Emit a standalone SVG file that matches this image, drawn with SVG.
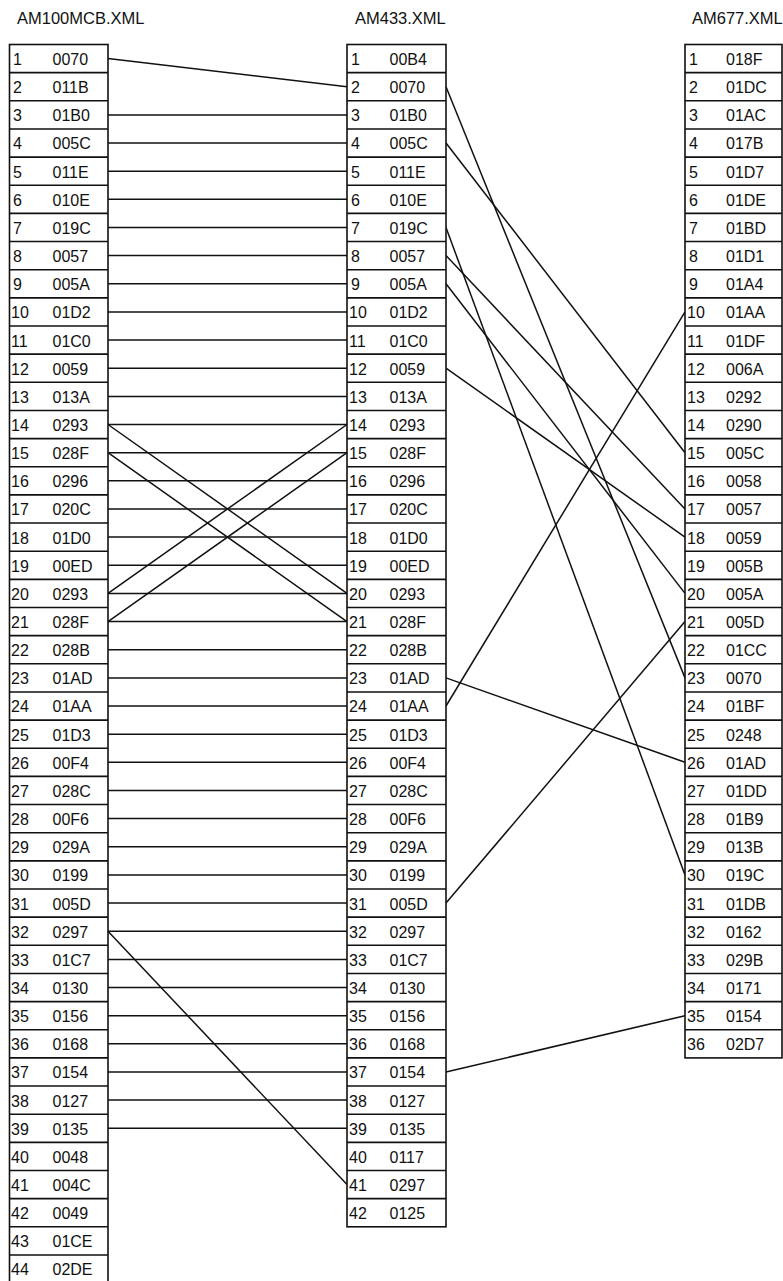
<svg xmlns="http://www.w3.org/2000/svg" width="783" height="1281" viewBox="0 0 783 1281">
<style>
text{font-family:"Liberation Sans",Arial,sans-serif;fill:#111}
.h{font-size:16.5px}
.t{font-size:16px}
.box{fill:#fff;stroke:#111;stroke-width:1.6}
.sep{fill:none;stroke:#111;stroke-width:1.6}
.c line{stroke:#111;stroke-width:1.5}
</style>
<rect width="783" height="1281" fill="#fff"/>
<text class="h" x="17" y="23.5">AM100MCB.XML</text>
<text class="h" x="355" y="23.5">AM433.XML</text>
<text class="h" x="692" y="23.5">AM677.XML</text>

<g id="connectors" class="c">
<line x1="108" y1="58.6" x2="347" y2="86.7"/>
<line x1="108" y1="114.9" x2="347" y2="114.9"/>
<line x1="108" y1="143.0" x2="347" y2="143.0"/>
<line x1="108" y1="171.2" x2="347" y2="171.2"/>
<line x1="108" y1="199.3" x2="347" y2="199.3"/>
<line x1="108" y1="227.5" x2="347" y2="227.5"/>
<line x1="108" y1="255.6" x2="347" y2="255.6"/>
<line x1="108" y1="283.8" x2="347" y2="283.8"/>
<line x1="108" y1="311.9" x2="347" y2="311.9"/>
<line x1="108" y1="340.1" x2="347" y2="340.1"/>
<line x1="108" y1="368.2" x2="347" y2="368.2"/>
<line x1="108" y1="396.4" x2="347" y2="396.4"/>
<line x1="108" y1="424.5" x2="347" y2="424.5"/>
<line x1="108" y1="452.7" x2="347" y2="452.7"/>
<line x1="108" y1="480.8" x2="347" y2="480.8"/>
<line x1="108" y1="509.0" x2="347" y2="509.0"/>
<line x1="108" y1="537.1" x2="347" y2="537.1"/>
<line x1="108" y1="565.3" x2="347" y2="565.3"/>
<line x1="108" y1="593.4" x2="347" y2="593.4"/>
<line x1="108" y1="621.6" x2="347" y2="621.6"/>
<line x1="108" y1="649.7" x2="347" y2="649.7"/>
<line x1="108" y1="677.9" x2="347" y2="677.9"/>
<line x1="108" y1="706.0" x2="347" y2="706.0"/>
<line x1="108" y1="734.2" x2="347" y2="734.2"/>
<line x1="108" y1="762.3" x2="347" y2="762.3"/>
<line x1="108" y1="790.5" x2="347" y2="790.5"/>
<line x1="108" y1="818.6" x2="347" y2="818.6"/>
<line x1="108" y1="846.8" x2="347" y2="846.8"/>
<line x1="108" y1="874.9" x2="347" y2="874.9"/>
<line x1="108" y1="903.1" x2="347" y2="903.1"/>
<line x1="108" y1="931.2" x2="347" y2="931.2"/>
<line x1="108" y1="959.4" x2="347" y2="959.4"/>
<line x1="108" y1="987.5" x2="347" y2="987.5"/>
<line x1="108" y1="1015.7" x2="347" y2="1015.7"/>
<line x1="108" y1="1043.8" x2="347" y2="1043.8"/>
<line x1="108" y1="1072.0" x2="347" y2="1072.0"/>
<line x1="108" y1="1100.1" x2="347" y2="1100.1"/>
<line x1="108" y1="1128.3" x2="347" y2="1128.3"/>
<line x1="108" y1="424.5" x2="347" y2="593.4"/>
<line x1="108" y1="452.7" x2="347" y2="621.6"/>
<line x1="108" y1="593.4" x2="347" y2="424.5"/>
<line x1="108" y1="621.6" x2="347" y2="452.7"/>
<line x1="108" y1="931.2" x2="347" y2="1184.6"/>
<line x1="446" y1="86.7" x2="685" y2="677.9"/>
<line x1="446" y1="143.0" x2="685" y2="452.7"/>
<line x1="446" y1="227.5" x2="685" y2="874.9"/>
<line x1="446" y1="255.6" x2="685" y2="509.0"/>
<line x1="446" y1="283.8" x2="685" y2="593.4"/>
<line x1="446" y1="368.2" x2="685" y2="537.1"/>
<line x1="446" y1="706.0" x2="685" y2="311.9"/>
<line x1="446" y1="903.1" x2="685" y2="621.6"/>
<line x1="446" y1="677.9" x2="685" y2="762.3"/>
<line x1="446" y1="1072.0" x2="685" y2="1015.7"/>
</g>

<g id="table-am100mcb">
<rect class="box" x="9.5" y="44.5" width="98.5" height="1238.6"/>
<path class="sep" d="M9.5 72.65H108M9.5 100.8H108M9.5 128.95H108M9.5 157.1H108M9.5 185.25H108M9.5 213.4H108M9.5 241.55H108M9.5 269.7H108M9.5 297.85H108M9.5 326H108M9.5 354.15H108M9.5 382.3H108M9.5 410.45H108M9.5 438.6H108M9.5 466.75H108M9.5 494.9H108M9.5 523.05H108M9.5 551.2H108M9.5 579.35H108M9.5 607.5H108M9.5 635.65H108M9.5 663.8H108M9.5 691.95H108M9.5 720.1H108M9.5 748.25H108M9.5 776.4H108M9.5 804.55H108M9.5 832.7H108M9.5 860.85H108M9.5 889H108M9.5 917.15H108M9.5 945.3H108M9.5 973.45H108M9.5 1001.6H108M9.5 1029.75H108M9.5 1057.9H108M9.5 1086.05H108M9.5 1114.2H108M9.5 1142.35H108M9.5 1170.5H108M9.5 1198.65H108M9.5 1226.8H108M9.5 1254.95H108"/>
<g class="t">
<text x="13" y="65">1</text><text x="52.5" y="65">0070</text>
<text x="13" y="93.1">2</text><text x="52.5" y="93.1">011B</text>
<text x="13" y="121.3">3</text><text x="52.5" y="121.3">01B0</text>
<text x="13" y="149.4">4</text><text x="52.5" y="149.4">005C</text>
<text x="13" y="177.6">5</text><text x="52.5" y="177.6">011E</text>
<text x="13" y="205.7">6</text><text x="52.5" y="205.7">010E</text>
<text x="13" y="233.9">7</text><text x="52.5" y="233.9">019C</text>
<text x="13" y="262">8</text><text x="52.5" y="262">0057</text>
<text x="13" y="290.2">9</text><text x="52.5" y="290.2">005A</text>
<text x="11" y="318.3">10</text><text x="52.5" y="318.3">01D2</text>
<text x="11" y="346.5">11</text><text x="52.5" y="346.5">01C0</text>
<text x="11" y="374.6">12</text><text x="52.5" y="374.6">0059</text>
<text x="11" y="402.8">13</text><text x="52.5" y="402.8">013A</text>
<text x="11" y="430.9">14</text><text x="52.5" y="430.9">0293</text>
<text x="11" y="459.1">15</text><text x="52.5" y="459.1">028F</text>
<text x="11" y="487.2">16</text><text x="52.5" y="487.2">0296</text>
<text x="11" y="515.4">17</text><text x="52.5" y="515.4">020C</text>
<text x="11" y="543.5">18</text><text x="52.5" y="543.5">01D0</text>
<text x="11" y="571.7">19</text><text x="52.5" y="571.7">00ED</text>
<text x="11" y="599.8">20</text><text x="52.5" y="599.8">0293</text>
<text x="11" y="628">21</text><text x="52.5" y="628">028F</text>
<text x="11" y="656.1">22</text><text x="52.5" y="656.1">028B</text>
<text x="11" y="684.3">23</text><text x="52.5" y="684.3">01AD</text>
<text x="11" y="712.4">24</text><text x="52.5" y="712.4">01AA</text>
<text x="11" y="740.6">25</text><text x="52.5" y="740.6">01D3</text>
<text x="11" y="768.7">26</text><text x="52.5" y="768.7">00F4</text>
<text x="11" y="796.9">27</text><text x="52.5" y="796.9">028C</text>
<text x="11" y="825">28</text><text x="52.5" y="825">00F6</text>
<text x="11" y="853.2">29</text><text x="52.5" y="853.2">029A</text>
<text x="11" y="881.3">30</text><text x="52.5" y="881.3">0199</text>
<text x="11" y="909.5">31</text><text x="52.5" y="909.5">005D</text>
<text x="11" y="937.6">32</text><text x="52.5" y="937.6">0297</text>
<text x="11" y="965.8">33</text><text x="52.5" y="965.8">01C7</text>
<text x="11" y="993.9">34</text><text x="52.5" y="993.9">0130</text>
<text x="11" y="1022.1">35</text><text x="52.5" y="1022.1">0156</text>
<text x="11" y="1050.2">36</text><text x="52.5" y="1050.2">0168</text>
<text x="11" y="1078.4">37</text><text x="52.5" y="1078.4">0154</text>
<text x="11" y="1106.5">38</text><text x="52.5" y="1106.5">0127</text>
<text x="11" y="1134.7">39</text><text x="52.5" y="1134.7">0135</text>
<text x="11" y="1162.8">40</text><text x="52.5" y="1162.8">0048</text>
<text x="11" y="1191">41</text><text x="52.5" y="1191">004C</text>
<text x="11" y="1219.1">42</text><text x="52.5" y="1219.1">0049</text>
<text x="11" y="1247.3">43</text><text x="52.5" y="1247.3">01CE</text>
<text x="11" y="1275.4">44</text><text x="52.5" y="1275.4">02DE</text>
</g>
</g>

<g id="table-am433">
<rect class="box" x="347" y="44.5" width="99" height="1182.3"/>
<path class="sep" d="M347 72.65H446M347 100.8H446M347 128.95H446M347 157.1H446M347 185.25H446M347 213.4H446M347 241.55H446M347 269.7H446M347 297.85H446M347 326H446M347 354.15H446M347 382.3H446M347 410.45H446M347 438.6H446M347 466.75H446M347 494.9H446M347 523.05H446M347 551.2H446M347 579.35H446M347 607.5H446M347 635.65H446M347 663.8H446M347 691.95H446M347 720.1H446M347 748.25H446M347 776.4H446M347 804.55H446M347 832.7H446M347 860.85H446M347 889H446M347 917.15H446M347 945.3H446M347 973.45H446M347 1001.6H446M347 1029.75H446M347 1057.9H446M347 1086.05H446M347 1114.2H446M347 1142.35H446M347 1170.5H446M347 1198.65H446"/>
<g class="t">
<text x="351" y="65">1</text><text x="389.5" y="65">00B4</text>
<text x="351" y="93.1">2</text><text x="389.5" y="93.1">0070</text>
<text x="351" y="121.3">3</text><text x="389.5" y="121.3">01B0</text>
<text x="351" y="149.4">4</text><text x="389.5" y="149.4">005C</text>
<text x="351" y="177.6">5</text><text x="389.5" y="177.6">011E</text>
<text x="351" y="205.7">6</text><text x="389.5" y="205.7">010E</text>
<text x="351" y="233.9">7</text><text x="389.5" y="233.9">019C</text>
<text x="351" y="262">8</text><text x="389.5" y="262">0057</text>
<text x="351" y="290.2">9</text><text x="389.5" y="290.2">005A</text>
<text x="349" y="318.3">10</text><text x="389.5" y="318.3">01D2</text>
<text x="349" y="346.5">11</text><text x="389.5" y="346.5">01C0</text>
<text x="349" y="374.6">12</text><text x="389.5" y="374.6">0059</text>
<text x="349" y="402.8">13</text><text x="389.5" y="402.8">013A</text>
<text x="349" y="430.9">14</text><text x="389.5" y="430.9">0293</text>
<text x="349" y="459.1">15</text><text x="389.5" y="459.1">028F</text>
<text x="349" y="487.2">16</text><text x="389.5" y="487.2">0296</text>
<text x="349" y="515.4">17</text><text x="389.5" y="515.4">020C</text>
<text x="349" y="543.5">18</text><text x="389.5" y="543.5">01D0</text>
<text x="349" y="571.7">19</text><text x="389.5" y="571.7">00ED</text>
<text x="349" y="599.8">20</text><text x="389.5" y="599.8">0293</text>
<text x="349" y="628">21</text><text x="389.5" y="628">028F</text>
<text x="349" y="656.1">22</text><text x="389.5" y="656.1">028B</text>
<text x="349" y="684.3">23</text><text x="389.5" y="684.3">01AD</text>
<text x="349" y="712.4">24</text><text x="389.5" y="712.4">01AA</text>
<text x="349" y="740.6">25</text><text x="389.5" y="740.6">01D3</text>
<text x="349" y="768.7">26</text><text x="389.5" y="768.7">00F4</text>
<text x="349" y="796.9">27</text><text x="389.5" y="796.9">028C</text>
<text x="349" y="825">28</text><text x="389.5" y="825">00F6</text>
<text x="349" y="853.2">29</text><text x="389.5" y="853.2">029A</text>
<text x="349" y="881.3">30</text><text x="389.5" y="881.3">0199</text>
<text x="349" y="909.5">31</text><text x="389.5" y="909.5">005D</text>
<text x="349" y="937.6">32</text><text x="389.5" y="937.6">0297</text>
<text x="349" y="965.8">33</text><text x="389.5" y="965.8">01C7</text>
<text x="349" y="993.9">34</text><text x="389.5" y="993.9">0130</text>
<text x="349" y="1022.1">35</text><text x="389.5" y="1022.1">0156</text>
<text x="349" y="1050.2">36</text><text x="389.5" y="1050.2">0168</text>
<text x="349" y="1078.4">37</text><text x="389.5" y="1078.4">0154</text>
<text x="349" y="1106.5">38</text><text x="389.5" y="1106.5">0127</text>
<text x="349" y="1134.7">39</text><text x="389.5" y="1134.7">0135</text>
<text x="349" y="1162.8">40</text><text x="389.5" y="1162.8">0117</text>
<text x="349" y="1191">41</text><text x="389.5" y="1191">0297</text>
<text x="349" y="1219.1">42</text><text x="389.5" y="1219.1">0125</text>
</g>
</g>

<g id="table-am677">
<rect class="box" x="685" y="44.5" width="97" height="1013.4"/>
<path class="sep" d="M685 72.65H782M685 100.8H782M685 128.95H782M685 157.1H782M685 185.25H782M685 213.4H782M685 241.55H782M685 269.7H782M685 297.85H782M685 326H782M685 354.15H782M685 382.3H782M685 410.45H782M685 438.6H782M685 466.75H782M685 494.9H782M685 523.05H782M685 551.2H782M685 579.35H782M685 607.5H782M685 635.65H782M685 663.8H782M685 691.95H782M685 720.1H782M685 748.25H782M685 776.4H782M685 804.55H782M685 832.7H782M685 860.85H782M685 889H782M685 917.15H782M685 945.3H782M685 973.45H782M685 1001.6H782M685 1029.75H782"/>
<g class="t">
<text x="689" y="65">1</text><text x="726" y="65">018F</text>
<text x="689" y="93.1">2</text><text x="726" y="93.1">01DC</text>
<text x="689" y="121.3">3</text><text x="726" y="121.3">01AC</text>
<text x="689" y="149.4">4</text><text x="726" y="149.4">017B</text>
<text x="689" y="177.6">5</text><text x="726" y="177.6">01D7</text>
<text x="689" y="205.7">6</text><text x="726" y="205.7">01DE</text>
<text x="689" y="233.9">7</text><text x="726" y="233.9">01BD</text>
<text x="689" y="262">8</text><text x="726" y="262">01D1</text>
<text x="689" y="290.2">9</text><text x="726" y="290.2">01A4</text>
<text x="687" y="318.3">10</text><text x="726" y="318.3">01AA</text>
<text x="687" y="346.5">11</text><text x="726" y="346.5">01DF</text>
<text x="687" y="374.6">12</text><text x="726" y="374.6">006A</text>
<text x="687" y="402.8">13</text><text x="726" y="402.8">0292</text>
<text x="687" y="430.9">14</text><text x="726" y="430.9">0290</text>
<text x="687" y="459.1">15</text><text x="726" y="459.1">005C</text>
<text x="687" y="487.2">16</text><text x="726" y="487.2">0058</text>
<text x="687" y="515.4">17</text><text x="726" y="515.4">0057</text>
<text x="687" y="543.5">18</text><text x="726" y="543.5">0059</text>
<text x="687" y="571.7">19</text><text x="726" y="571.7">005B</text>
<text x="687" y="599.8">20</text><text x="726" y="599.8">005A</text>
<text x="687" y="628">21</text><text x="726" y="628">005D</text>
<text x="687" y="656.1">22</text><text x="726" y="656.1">01CC</text>
<text x="687" y="684.3">23</text><text x="726" y="684.3">0070</text>
<text x="687" y="712.4">24</text><text x="726" y="712.4">01BF</text>
<text x="687" y="740.6">25</text><text x="726" y="740.6">0248</text>
<text x="687" y="768.7">26</text><text x="726" y="768.7">01AD</text>
<text x="687" y="796.9">27</text><text x="726" y="796.9">01DD</text>
<text x="687" y="825">28</text><text x="726" y="825">01B9</text>
<text x="687" y="853.2">29</text><text x="726" y="853.2">013B</text>
<text x="687" y="881.3">30</text><text x="726" y="881.3">019C</text>
<text x="687" y="909.5">31</text><text x="726" y="909.5">01DB</text>
<text x="687" y="937.6">32</text><text x="726" y="937.6">0162</text>
<text x="687" y="965.8">33</text><text x="726" y="965.8">029B</text>
<text x="687" y="993.9">34</text><text x="726" y="993.9">0171</text>
<text x="687" y="1022.1">35</text><text x="726" y="1022.1">0154</text>
<text x="687" y="1050.2">36</text><text x="726" y="1050.2">02D7</text>
</g>
</g>
</svg>
